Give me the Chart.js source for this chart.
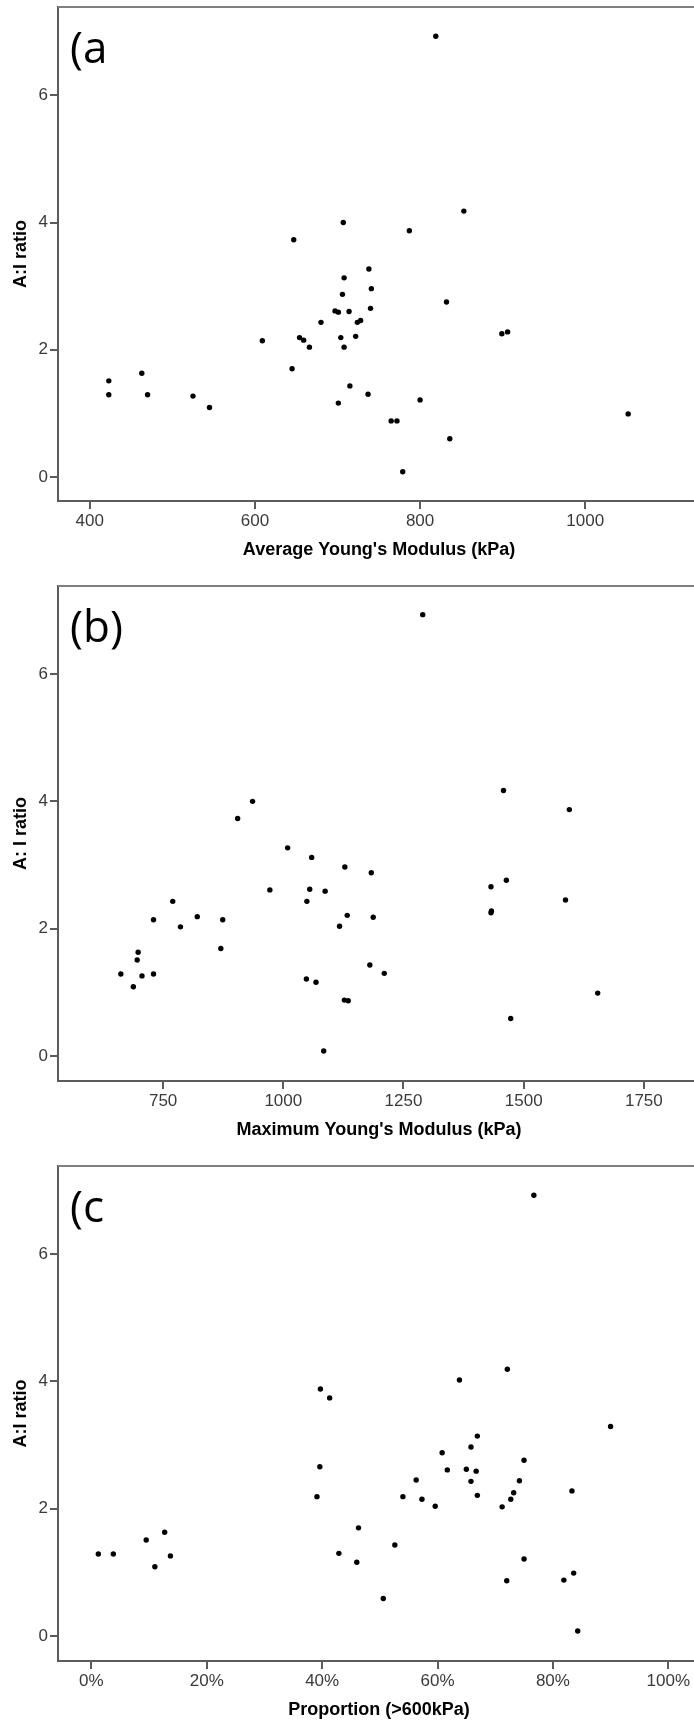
<!DOCTYPE html>
<html>
<head>
<meta charset="utf-8">
<title>A:I ratio vs Young's modulus</title>
<script src="https://cdn.jsdelivr.net/npm/chart.js@4.4.1/dist/chart.umd.min.js"></script>
<style>
  html, body { margin: 0; padding: 0; background: #fff; overflow: hidden; }
  #panels { width: 704px; }
  .panel { position: relative; width: 704px; height: 580px; }
</style>
</head>
<body>
<div id="panels">
  <div class="panel"><canvas id="chartA"></canvas></div>
  <div class="panel"><canvas id="chartB"></canvas></div>
  <div class="panel"><canvas id="chartC"></canvas></div>
</div>
<script>
// y ticks shared by all three panels
const ratioTicks = [0, 2, 4, 6];

// (a) average Young's modulus
const avgModulusTicks = [400, 600, 800, 1000];
const avgModulus = [819, 853, 707, 787, 647, 738, 708, 741, 706, 832, 740, 697, 701, 714,
  680, 724, 728, 609, 654, 659, 666, 704, 722, 708, 899, 906, 645, 423, 463, 423, 470,
  525, 545, 715, 737, 701, 800, 765, 772, 836, 779, 1052];
const ratioA = [6.93, 4.18, 4.00, 3.87, 3.73, 3.27, 3.13, 2.96, 2.87, 2.75, 2.65, 2.61, 2.59, 2.60,
  2.43, 2.43, 2.46, 2.14, 2.19, 2.15, 2.04, 2.19, 2.21, 2.04, 2.25, 2.28, 1.70, 1.51, 1.63, 1.29, 1.29,
  1.27, 1.09, 1.43, 1.30, 1.16, 1.21, 0.88, 0.88, 0.60, 0.08, 0.99];

// (b) maximum Young's modulus
const maxModulusTicks = [750, 1000, 1250, 1500, 1750];
const maxModulus = [1290, 1458, 936, 905, 1595, 1009, 1059, 1128, 1183, 1464, 1432, 972, 1055, 1087,
  1049, 770, 1587, 730, 821, 874, 786, 1133, 1187, 1117, 1432, 1433, 870, 698, 696, 662, 706,
  730, 688, 1180, 1210, 1048, 1068, 1127, 1135, 1654, 1473, 1084];
const ratioB = [6.93, 4.17, 4.00, 3.73, 3.87, 3.27, 3.12, 2.97, 2.88, 2.76, 2.66, 2.61, 2.62, 2.59,
  2.43, 2.43, 2.45, 2.14, 2.19, 2.14, 2.03, 2.21, 2.18, 2.04, 2.25, 2.28, 1.69, 1.63, 1.51, 1.29, 1.26,
  1.29, 1.09, 1.43, 1.30, 1.21, 1.16, 0.88, 0.87, 0.99, 0.59, 0.08];

// (c) proportion of readings above 600 kPa, in percent
const proportionTicks = [0, 20, 40, 60, 80, 100];
const proportion = [76.7, 72.1, 63.8, 39.7, 41.3, 90.0, 66.9, 65.8, 60.8, 75.0, 39.6, 61.7, 65.0, 66.7,
  56.3, 65.8, 74.2, 39.1, 54.0, 57.3, 59.6, 66.9, 71.2, 72.7, 73.2, 83.3, 46.3, 1.2, 3.8, 9.5, 12.7,
  11.0, 13.7, 42.9, 46.0, 52.6, 75.0, 50.6, 72.0, 81.9, 83.6, 84.3];
const ratioC = [6.92, 4.19, 4.02, 3.88, 3.74, 3.29, 3.14, 2.97, 2.88, 2.76, 2.66, 2.61, 2.62, 2.59,
  2.45, 2.43, 2.44, 2.19, 2.19, 2.15, 2.04, 2.21, 2.03, 2.15, 2.25, 2.28, 1.70, 1.29, 1.29, 1.51, 1.63,
  1.09, 1.26, 1.30, 1.16, 1.43, 1.21, 0.59, 0.87, 0.88, 0.99, 0.08];

const axisGray = '#5c5c5c';
const tickFont = { family: "'Liberation Sans Narrow', 'Arial Narrow', 'Liberation Sans', Arial, sans-serif", size: 17 };
const titleFont = { family: "'Liberation Sans', Arial, sans-serif", size: 18, weight: 'bold' };

// top frame line and the panel letter
const panelDecor = {
  id: 'panelDecor',
  afterDraw(chart, args, opts) {
    const { ctx, chartArea } = chart;
    ctx.save();
    ctx.strokeStyle = '#808080';
    ctx.lineWidth = 2;
    ctx.beginPath();
    ctx.moveTo(chartArea.left, chartArea.top);
    ctx.lineTo(chart.width, chartArea.top);
    ctx.stroke();
    ctx.fillStyle = '#000';
    ctx.font = '44px "Open Sans", "Noto Sans", sans-serif';
    ctx.textBaseline = 'alphabetic';
    ctx.fillText(opts.letter, chartArea.left + 12, chartArea.top + 56);
    ctx.restore();
  }
};

function makeChart(id, p) {
  return new Chart(document.getElementById(id), {
    type: 'scatter',
    data: {
      datasets: [{
        data: p.xs.map((x, i) => ({ x: x, y: p.ys[i] })),
        backgroundColor: '#000',
        borderColor: '#000',
        borderWidth: 0,
        pointRadius: 2.7
      }]
    },
    options: {
      responsive: true,
      maintainAspectRatio: false,
      animation: false,
      layout: { padding: { top: p.top, left: 0, right: 0, bottom: 0 } },
      plugins: {
        legend: { display: false },
        tooltip: { enabled: false },
        panelDecor: { letter: p.letter }
      },
      scales: {
        x: {
          type: 'linear',
          position: 'bottom',
          min: p.xMin,
          max: p.xMax,
          afterBuildTicks: s => { s.ticks = p.xTicks.map(v => ({ value: v })); },
          afterFit: s => { s.height = 79; s.paddingLeft = 0; s.paddingRight = 0; },
          grid: { display: true, drawOnChartArea: false, drawTicks: true, tickLength: 8, color: axisGray, lineWidth: 2 },
          border: { display: true, color: axisGray, width: 2 },
          ticks: { font: tickFont, color: '#3a3a3a', padding: 2, maxRotation: 0, callback: p.fmt },
          title: { display: true, text: p.xTitle, font: titleFont, color: '#000', padding: { top: 0, bottom: 19 } }
        },
        y: {
          type: 'linear',
          position: 'left',
          min: p.yMin,
          max: p.yMax,
          afterBuildTicks: s => { s.ticks = ratioTicks.map(v => ({ value: v })); },
          afterFit: s => { s.width = 58; s.paddingTop = 0; s.paddingBottom = 0; },
          grid: { display: true, drawOnChartArea: false, drawTicks: true, tickLength: 8, color: axisGray, lineWidth: 2 },
          border: { display: true, color: axisGray, width: 2 },
          ticks: { font: tickFont, color: '#3a3a3a', padding: 2, callback: v => String(v) },
          title: { display: true, text: p.yTitle, font: titleFont, color: '#000', padding: { top: 10, bottom: 0 } }
        }
      }
    },
    plugins: [panelDecor]
  });
}

makeChart('chartA', {
  letter: '(a', top: 7, xs: avgModulus, ys: ratioA,
  xMin: 361.5, xMax: 1139, xTicks: avgModulusTicks, fmt: v => String(v),
  yMin: -0.38, yMax: 7.39,
  xTitle: "Average Young's Modulus (kPa)", yTitle: 'A:I ratio'
});

makeChart('chartB', {
  letter: '(b)', top: 6, xs: maxModulus, ys: ratioB,
  xMin: 531.3, xMax: 1866.8, xTicks: maxModulusTicks, fmt: v => String(v),
  yMin: -0.39, yMax: 7.38,
  xTitle: "Maximum Young's Modulus (kPa)", yTitle: 'A: I ratio'
});

makeChart('chartC', {
  letter: '(c', top: 6, xs: proportion, ys: ratioC,
  xMin: -5.79, xMax: 105.5, xTicks: proportionTicks, fmt: v => v + '%',
  yMin: -0.39, yMax: 7.38,
  xTitle: 'Proportion (>600kPa)', yTitle: 'A:I ratio'
});
</script>
</body>
</html>
